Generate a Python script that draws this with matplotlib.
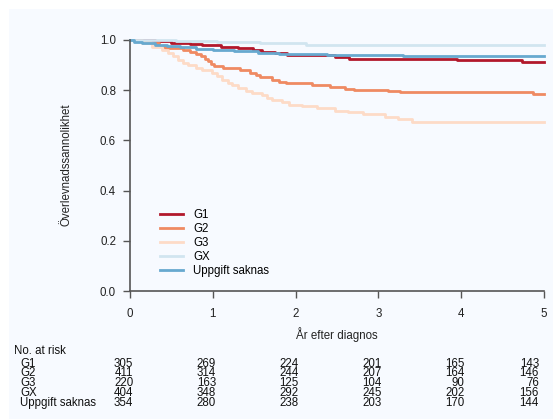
import matplotlib
matplotlib.use("Agg")
import matplotlib.pyplot as plt
from matplotlib.patches import Rectangle
from matplotlib.transforms import blended_transform_factory

plt.rcParams['font.family'] = ['Liberation Sans', 'DejaVu Sans']

# Kaplan-Meier steps per grade (time in years, survival after the step)
g1_t = [0, 0.30, 0.50, 0.72, 0.87, 1.10, 1.30, 1.48, 1.60, 1.75, 1.90, 2.48, 2.64, 3.95, 4.73, 5.0]
g1_s = [1.0, 0.997, 0.990, 0.986, 0.980, 0.974, 0.967, 0.960, 0.954, 0.948, 0.940, 0.931, 0.926, 0.920, 0.913, 0.913]

g2_t = [0, 0.15, 0.24, 0.35, 0.42, 0.64, 0.72, 0.80, 0.86, 0.90, 0.94, 0.98, 1.02, 1.12, 1.33, 1.45,
        1.52, 1.57, 1.72, 1.80, 1.88, 2.20, 2.42, 2.60, 2.70, 3.12, 3.26, 4.87, 5.0]
g2_s = [1.0, 0.995, 0.987, 0.978, 0.968, 0.960, 0.952, 0.944, 0.935, 0.925, 0.915, 0.905, 0.896, 0.887, 0.880, 0.867,
        0.860, 0.854, 0.841, 0.834, 0.828, 0.821, 0.814, 0.806, 0.801, 0.797, 0.792, 0.785, 0.785]

g3_t = [0, 0.05, 0.14, 0.27, 0.39, 0.46, 0.52, 0.58, 0.64, 0.70, 0.80, 0.87, 0.99, 1.05, 1.11, 1.18, 1.23,
        1.30, 1.40, 1.47, 1.59, 1.65, 1.72, 1.83, 1.92, 2.08, 2.26, 2.47, 2.63, 2.81, 3.08, 3.24, 3.41, 5.0]
g3_s = [1.0, 0.995, 0.987, 0.974, 0.960, 0.947, 0.935, 0.920, 0.910, 0.900, 0.890, 0.880, 0.867, 0.855, 0.841, 0.830, 0.821,
        0.808, 0.797, 0.788, 0.781, 0.768, 0.761, 0.752, 0.741, 0.737, 0.728, 0.719, 0.715, 0.705, 0.692, 0.684, 0.675, 0.675]

gx_t = [0, 0.55, 0.90, 1.05, 1.57, 2.13, 5.0]
gx_s = [1.0, 0.998, 0.995, 0.991, 0.987, 0.982, 0.982]

us_t = [0, 0.05, 0.15, 0.30, 0.45, 0.60, 0.80, 1.00, 1.25, 1.55, 1.80, 1.97, 2.38, 3.30, 5.0]
us_s = [1.0, 0.994, 0.988, 0.982, 0.976, 0.971, 0.966, 0.961, 0.956, 0.950, 0.946, 0.944, 0.940, 0.936, 0.936]

labels = ['G1', 'G2', 'G3', 'GX', 'Uppgift saknas']
colors = ['#b2182b', '#ef8a62', '#fddbc7', '#d1e5f0', '#67a9cf']
curves = [(g1_t, g1_s), (g2_t, g2_s), (g3_t, g3_s), (gx_t, gx_s), (us_t, us_s)]

# number at risk at years 0..5
risk_years = [0, 1, 2, 3, 4, 5]
risk_g1 = [305, 269, 224, 201, 165, 143]
risk_g2 = [411, 314, 244, 207, 164, 146]
risk_g3 = [220, 163, 125, 104, 90, 76]
risk_gx = [404, 348, 292, 245, 202, 156]
risk_us = [354, 280, 238, 203, 170, 144]
risk_rows = [risk_g1, risk_g2, risk_g3, risk_gx, risk_us]

panel = '#f7faff'
W, H = 553, 419
fs = 8.3

fig = plt.figure(figsize=(W / 100, H / 100), dpi=100, facecolor='white')
fig.patches.append(Rectangle((9 / W, 0), 1, 1 - 9 / H, transform=fig.transFigure,
                             facecolor=panel, edgecolor='none', zorder=-10))

ax = fig.add_axes([130 / W, 1 - 291 / H, 414 / W, 251 / H])
ax.set_facecolor(panel)

for (t, s), lab, col in zip(curves, labels, colors):
    ax.step(t, s, where='post', color=col, lw=2.0, label=lab, clip_on=False)

ax.set_xlim(0, 5)
ax.set_ylim(0, 1)
ax.set_xticks(risk_years)
ax.set_xticklabels([str(y) for y in risk_years])
ax.set_yticks([0, 0.2, 0.4, 0.6, 0.8, 1.0])
ax.set_yticklabels(['0.0', '0.2', '0.4', '0.6', '0.8', '1.0'])
ax.tick_params(axis='both', length=5, width=1.0, color='#555555', labelsize=fs, labelcolor='#222222')
ax.tick_params(axis='x', pad=7)
ax.tick_params(axis='y', pad=5)
for side in ['top', 'right']:
    ax.spines[side].set_visible(False)
for side in ['left', 'bottom']:
    ax.spines[side].set_color('#555555')
    ax.spines[side].set_linewidth(1.2)

leg = ax.legend(loc='upper left', bbox_to_anchor=(30 / 414, 0.327), frameon=False,
                fontsize=fs, handlelength=2.0, handletextpad=0.9, labelspacing=0.18,
                borderpad=0, borderaxespad=0)

fig.text(337 / W, 1 - 335 / H, 'År efter diagnos', ha='center', va='center', fontsize=fs, color='#222222')
fig.text(66 / W, 1 - 165 / H, 'Överlevnadssannolikhet', rotation=90, ha='center', va='center',
         fontsize=fs, color='#222222')

# risk table below the plot
fig.text(14 / W, 1 - 351 / H, 'No. at risk', ha='left', va='center', fontsize=fs, color='#111111')
row_y = [363.5, 373.3, 383.1, 392.9, 402.7]
col_x = [0.04, 1.04, 2.04, 3.04, 4.04, 4.94]
tr = blended_transform_factory(ax.transData, fig.transFigure)
for lab, vals, py in zip(labels, risk_rows, row_y):
    fig.text(20 / W, 1 - py / H, lab, ha='left', va='center', fontsize=fs, color='#111111')
    for cx, v in zip(col_x, vals):
        ax.text(cx, 1 - py / H, str(v), transform=tr, ha='right', va='center',
                fontsize=fs, color='#111111', clip_on=False)

fig.savefig('out.png', dpi=100, facecolor=fig.get_facecolor())
